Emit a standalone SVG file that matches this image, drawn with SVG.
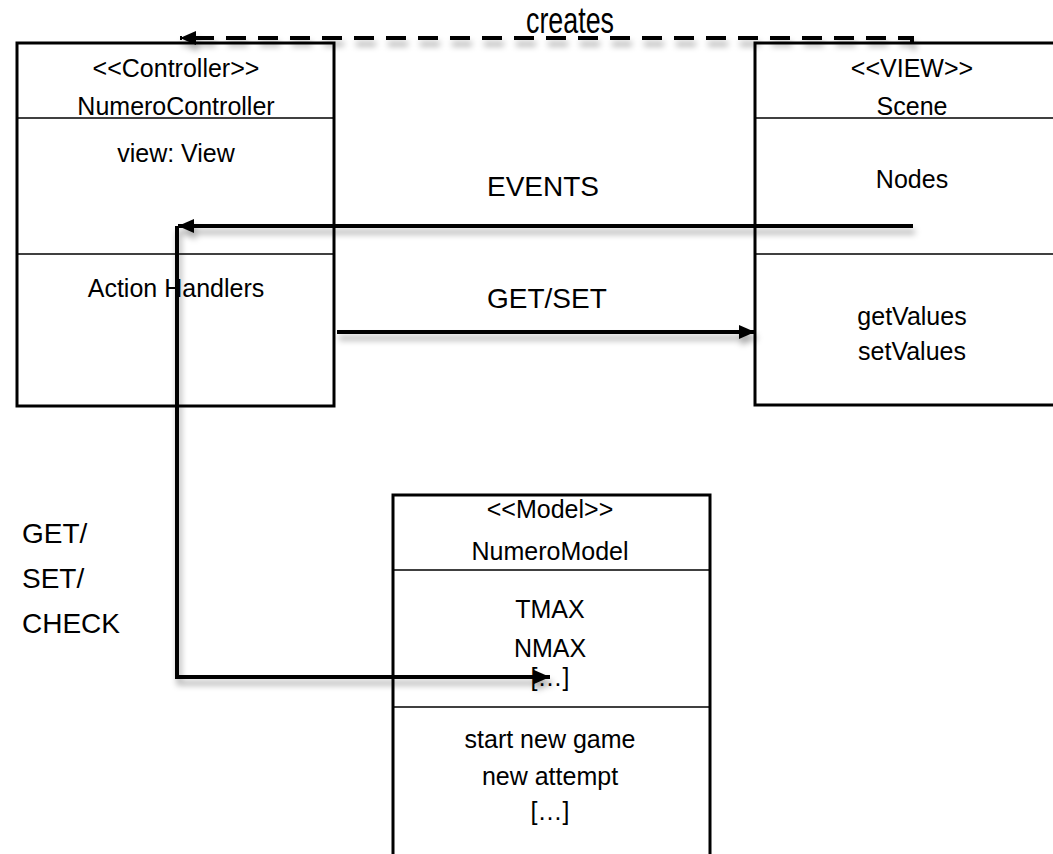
<svg xmlns="http://www.w3.org/2000/svg" width="1053" height="854" viewBox="0 0 1053 854">
<style>
.box{fill:#fff;stroke:#000;stroke-width:3}
.div{stroke:#000;stroke-width:1.5}
.t{font-family:"Liberation Sans",Arial,sans-serif;font-size:25px;fill:#000;text-anchor:middle}
.lbl{font-family:"Liberation Sans",Arial,sans-serif;font-size:28px;fill:#000}
.c{fill:none;stroke:#000;stroke-width:4}
</style>
<defs>
<filter id="sh" filterUnits="userSpaceOnUse" x="0" y="0" width="1053" height="854">
<feDropShadow dx="2" dy="6" stdDeviation="3" flood-color="#000" flood-opacity="0.35"/>
</filter>
<marker id="ah" markerUnits="userSpaceOnUse" markerWidth="18" markerHeight="16" refX="16" refY="8" orient="auto">
<path d="M0,1 L16,8 L0,15 Z" fill="#000"/>
</marker>
</defs>
<g id="controller">
<rect class="box" x="17" y="43" width="317" height="363"/>
<line class="div" x1="17" y1="118" x2="334" y2="118"/>
<line class="div" x1="17" y1="254" x2="334" y2="254"/>
<text class="t" x="176" y="77">&lt;&lt;Controller&gt;&gt;</text>
<text class="t" x="176" y="115">NumeroController</text>
<text class="t" x="176" y="162">view: View</text>
<text class="t" x="176" y="297">Action Handlers</text>
</g>
<g id="view">
<rect class="box" x="755" y="43" width="310" height="362"/>
<line class="div" x1="755" y1="118" x2="1053" y2="118"/>
<line class="div" x1="755" y1="254" x2="1053" y2="254"/>
<text class="t" x="912" y="77">&lt;&lt;VIEW&gt;&gt;</text>
<text class="t" x="912" y="115">Scene</text>
<text class="t" x="912" y="188">Nodes</text>
<text class="t" x="912" y="325">getValues</text>
<text class="t" x="912" y="360">setValues</text>
</g>
<g id="model">
<rect class="box" x="393" y="495" width="317" height="380"/>
<line class="div" x1="393" y1="570" x2="710" y2="570"/>
<line class="div" x1="393" y1="707" x2="710" y2="707"/>
<text class="t" x="550" y="518">&lt;&lt;Model&gt;&gt;</text>
<text class="t" x="550" y="560">NumeroModel</text>
<text class="t" x="550" y="618">TMAX</text>
<text class="t" x="550" y="657">NMAX</text>
<text class="t" x="550" y="686">[…]</text>
<text class="t" x="550" y="748">start new game</text>
<text class="t" x="550" y="785">new attempt</text>
<text class="t" x="550" y="820">[…]</text>
</g>
<g id="connectors">
<path class="c" d="M912,44 L912,38 L180,38" stroke-dasharray="20,12" marker-end="url(#ah)" filter="url(#sh)"/>
<path class="c" d="M913,226 L178,226" marker-end="url(#ah)" filter="url(#sh)"/>
<path class="c" d="M337,332 L755,332" marker-end="url(#ah)" filter="url(#sh)"/>
<path class="c" d="M177,226 L177,677 L550,677" marker-end="url(#ah)" filter="url(#sh)"/>
</g>
<g id="labels">
<text class="lbl" x="526" y="33" style="font-size:36px" textLength="88" lengthAdjust="spacingAndGlyphs">creates</text>
<text class="lbl" x="487" y="196">EVENTS</text>
<text class="lbl" x="487" y="308">GET/SET</text>
<text class="lbl" x="22" y="543">GET/</text>
<text class="lbl" x="22" y="588">SET/</text>
<text class="lbl" x="22" y="633">CHECK</text>
</g>
</svg>
